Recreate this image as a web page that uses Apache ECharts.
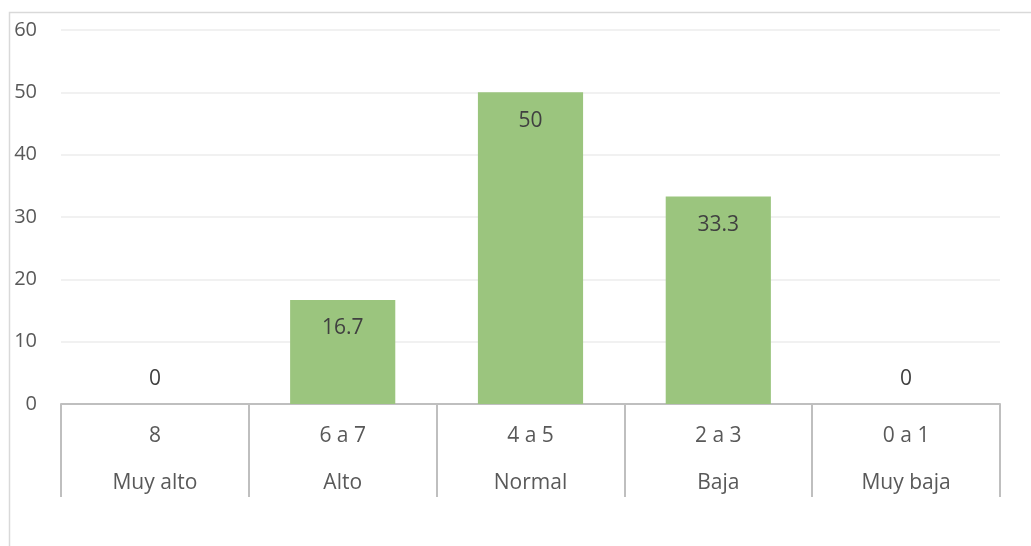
<!DOCTYPE html>
<html>
<head>
<meta charset="utf-8">
<script src="https://cdn.jsdelivr.net/npm/echarts@6/dist/echarts.min.js"></script>
<style>
  html, body { margin: 0; padding: 0; background: #ffffff; }
  #chart { width: 1031px; height: 546px; }
</style>
</head>
<body>
<div id="chart"></div>
<script>
// Score ranges, level names and percentage per level
const ranges = ['8', '6 a 7', '4 a 5', '2 a 3', '0 a 1'];
const levels = ['Muy alto', 'Alto', 'Normal', 'Baja', 'Muy baja'];
const values = [0, 16.7, 50, 33.3, 0];
const yTicks = { min: 0, max: 60, interval: 10 };

const FONT = '"Open Sans", Lato, sans-serif';
const categories = ranges.map((r, i) => r + '\n' + levels[i]);

const chart = echarts.init(document.getElementById('chart'), null, { renderer: 'canvas' });

chart.setOption({
  animation: false,
  backgroundColor: '#ffffff',
  grid: { left: 61, right: 31, top: 30, bottom: 142, containLabel: false },
  graphic: [{
    type: 'rect',
    shape: { x: 9.5, y: 12.5, width: 1100, height: 600 },
    style: { fill: 'none', stroke: '#d9d9d9', lineWidth: 1.5 },
    silent: true,
    z: -1
  }],
  xAxis: {
    type: 'category',
    data: categories,
    boundaryGap: true,
    axisLine: { show: true, lineStyle: { color: '#bfbfbf', width: 2 } },
    axisTick: { show: true, interval: 0, length: 93, lineStyle: { color: '#bfbfbf', width: 2 } },
    axisLabel: {
      interval: 0,
      margin: 9,
      color: '#595959',
      fontFamily: FONT,
      fontSize: 21,
      lineHeight: 47,
      align: 'center'
    },
    splitLine: { show: false }
  },
  yAxis: {
    type: 'value',
    min: yTicks.min,
    max: yTicks.max,
    interval: yTicks.interval,
    axisLine: { show: false },
    axisTick: { show: false },
    axisLabel: { color: '#595959', fontFamily: FONT, fontSize: 20, margin: 24 },
    splitLine: { lineStyle: { color: '#ececec', width: 1.5 } }
  },
  series: [{
    type: 'bar',
    data: values.map(v => ({
      value: v,
      label: v === 0
        ? { position: 'top', distance: 14 }
        : { position: 'insideTop', distance: 18 }
    })),
    barWidth: '56%',
    itemStyle: { color: '#9bc57e' },
    label: {
      show: true,
      color: '#404040',
      fontFamily: FONT,
      fontSize: 21,
      formatter: p => String(p.value)
    }
  }]
});
</script>
</body>
</html>
